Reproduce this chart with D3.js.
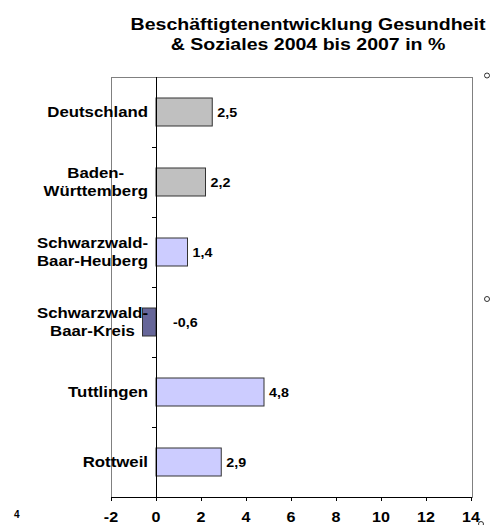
<!DOCTYPE html>
<html><head><meta charset="utf-8">
<script src="https://cdn.jsdelivr.net/npm/d3@7"></script>
<style>body{margin:0;background:#fff}svg{display:block}text{font-family:"Liberation Sans",Arial,sans-serif;font-weight:bold;fill:#000}</style>
</head><body>
<svg id="c" width="499" height="525"></svg>
<script>
const categories = ["Deutschland", "Baden-\nWürttemberg", "Schwarzwald-\nBaar-Heuberg", "Schwarzwald-\nBaar-Kreis", "Tuttlingen", "Rottweil"];
const values = [2.5, 2.2, 1.4, -0.6, 4.8, 2.9];
const valueLabels = ["2,5", "2,2", "1,4", "-0,6", "4,8", "2,9"];
const xTicks = [-2, 0, 2, 4, 6, 8, 10, 12, 14];
const titleLines = ["Beschäftigtenentwicklung Gesundheit", "& Soziales 2004 bis 2007 in %"];

const svg = d3.select("#c");
const L = 111, R = 471, T = 77, B = 497;
const SX = 1.2;
const x = d3.scaleLinear().domain([-2, 14]).range([L, R]);
const y = d3.scaleBand().domain(d3.range(categories.length)).range([T, B]).paddingInner(0.6).paddingOuter(0.3);
const yb = d3.scaleBand().domain(d3.range(categories.length)).range([T, B]);

function stext(g, tx, ty, str, size, anchor, sx) {
  return g.append("text").attr("transform", `translate(${tx},${ty}) scale(${sx},1)`)
    .attr("text-anchor", anchor).style("font-size", size + "px").text(str);
}

// title
titleLines.forEach((t, i) => stext(svg, 308, 30 + i * 19.5, t, 17, "middle", 1.15));

// frame
svg.append("rect").attr("x", L).attr("y", T).attr("width", R + 1 - L).attr("height", B - T)
  .attr("fill", "none").attr("stroke", "#808080").attr("stroke-width", 1).attr("shape-rendering", "crispEdges");

// bars
const color = (d, i) => d < 0 ? "#666699" : (i < 2 ? "#c0c0c0" : "#ccccff");
svg.append("g").selectAll("rect").data(values).join("rect")
  .attr("x", d => x(Math.min(0, d))).attr("width", d => Math.abs(x(d) - x(0)))
  .attr("y", (d, i) => y(i)).attr("height", y.bandwidth())
  .attr("fill", color).attr("stroke", "#333").attr("stroke-width", 1);

// zero axis with category ticks
const ax = svg.append("g").attr("shape-rendering", "crispEdges");
ax.append("line").attr("x1", x(0)).attr("x2", x(0)).attr("y1", T).attr("y2", B).attr("stroke", "#000");
d3.range(1, categories.length).forEach(i => {
  ax.append("line").attr("x1", x(0) - 4).attr("x2", x(0)).attr("y1", yb(i)).attr("y2", yb(i)).attr("stroke", "#000");
});

// bottom axis
const xa = svg.append("g").attr("transform", `translate(0,${B})`)
  .call(d3.axisBottom(x).tickValues(xTicks).tickSize(4).tickFormat(d => String(d)));
xa.select(".domain").attr("stroke", "#000").attr("shape-rendering", "crispEdges");
xa.selectAll(".tick line").attr("stroke", "#000").attr("shape-rendering", "crispEdges");
xa.selectAll(".tick text").remove();
xTicks.forEach(t => stext(svg, x(t), 522, String(t), 14, "middle", 1.15));

// category labels
categories.forEach((c, i) => {
  const lines = c.split("\n");
  const cy = yb(i) + yb.bandwidth() / 2;
  const g = svg.append("g");
  const ts = lines.map((ln, k) => stext(g, 0, cy + 5 + (k - (lines.length - 1) / 2) * 18, ln, 14, "middle", SX));
  const w = d3.max(ts, t => t.node().getComputedTextLength()) * SX;
  g.attr("transform", `translate(${148 - w / 2},0)`);
});

// value labels
values.forEach((v, i) => {
  const cy = y(i) + y.bandwidth() / 2 + 5;
  const tx = v < 0 ? x(0) + 17 : x(v) + 5;
  stext(svg, tx, cy, valueLabels[i], 13, "start", 1.1);
});

// stray glyph and selection handles
stext(svg, 14, 518, "4", 10, "start", 1);
[[487, 75.5], [487, 299], [481, 524]].forEach(p => {
  svg.append("circle").attr("cx", p[0]).attr("cy", p[1]).attr("r", 2.5).attr("fill", "#fff").attr("stroke", "#000").attr("stroke-width", 0.8);
});
</script>
</body></html>
